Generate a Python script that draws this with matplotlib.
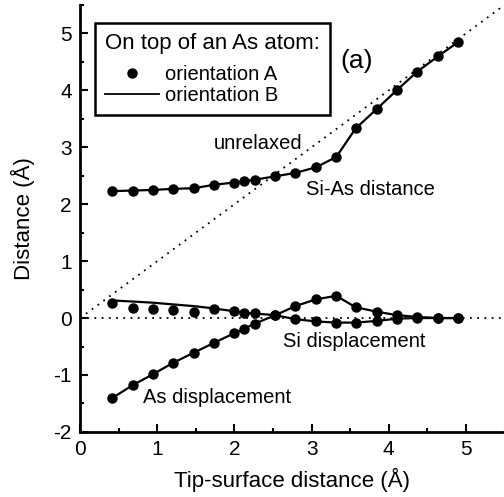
import matplotlib
matplotlib.use('Agg')
import matplotlib.pyplot as plt
from matplotlib.lines import Line2D
from matplotlib.ticker import MultipleLocator

plt.rcParams['font.family'] = ['Liberation Sans', 'DejaVu Sans']
plt.rcParams['axes.unicode_minus'] = False

# tip-surface distances (A)
tip_dist = [0.41, 0.68, 0.94, 1.20, 1.47, 1.73, 1.99, 2.12, 2.26, 2.53,
            2.79, 3.06, 3.32, 3.57, 3.85, 4.11, 4.37, 4.64, 4.90]

# orientation A (points)
si_as_a = [2.23, 2.24, 2.25, 2.27, 2.28, 2.34, 2.38, 2.40, 2.43, 2.49,
           2.55, 2.65, 2.83, 3.33, 3.68, 4.01, 4.33, 4.60, 4.85]
si_disp_a = [0.26, 0.18, 0.16, 0.15, 0.11, 0.16, 0.12, 0.09, 0.08, 0.05,
             -0.02, -0.06, -0.08, -0.08, -0.05, -0.01, 0.0, 0.0, 0.0]
as_disp_a = [-1.41, -1.18, -0.99, -0.79, -0.61, -0.44, -0.27, -0.19, -0.10, 0.05,
             0.21, 0.33, 0.39, 0.19, 0.11, 0.05, 0.02, 0.0, 0.0]

# orientation B (lines)
si_as_b = si_as_a
si_disp_b = [0.31, 0.29, 0.27, 0.24, 0.21, 0.17, 0.12, 0.09, 0.08, 0.05,
             -0.02, -0.06, -0.08, -0.08, -0.05, -0.01, 0.0, 0.0, 0.0]
as_disp_b = as_disp_a

unrelaxed_x = [0, 5.5]
unrelaxed_y = [0, 5.5]

fig = plt.figure(figsize=(5.04, 4.97), dpi=100)
ax = fig.add_axes([0.159, 0.131, 0.842, 0.859])

ax.plot(unrelaxed_x, unrelaxed_y, color='black', linestyle=(0, (1, 3)), linewidth=1.3)
ax.axhline(0, color='black', linestyle=(0, (1, 3)), linewidth=1.3)

for yb in (si_as_b, si_disp_b, as_disp_b):
    ax.plot(tip_dist, yb, color='black', linewidth=1.6)
for ya in (si_as_a, si_disp_a, as_disp_a):
    ax.plot(tip_dist, ya, linestyle='none', marker='o', markersize=6.5, color='black')

ax.set_xlim(0, 5.5)
ax.set_ylim(-2, 5.5)
ax.xaxis.set_major_locator(MultipleLocator(1))
ax.xaxis.set_minor_locator(MultipleLocator(0.5))
ax.yaxis.set_major_locator(MultipleLocator(1))
ax.yaxis.set_minor_locator(MultipleLocator(0.5))
ax.tick_params(which='both', direction='in', width=1.5, labelsize=15)
ax.tick_params(which='major', length=6, pad=6)
ax.tick_params(which='minor', length=3)
ax.spines['top'].set_visible(False)
ax.spines['right'].set_visible(False)
ax.spines['left'].set_linewidth(2)
ax.spines['bottom'].set_linewidth(2)

ax.set_xlabel('Tip-surface distance (Å)', fontsize=16, labelpad=6)
ax.set_ylabel('Distance (Å)', fontsize=16, labelpad=13)

ax.text(3.58, 4.51, '(a)', fontsize=19, ha='center', va='center')
ax.text(2.31, 3.06, 'unrelaxed', fontsize=14.5, ha='center', va='center')
ax.text(3.76, 2.26, 'Si-As distance', fontsize=14.5, ha='center', va='center')
ax.text(3.55, -0.41, 'Si displacement', fontsize=14.5, ha='center', va='center')
ax.text(1.78, -1.40, 'As displacement', fontsize=14.5, ha='center', va='center')

handles = [Line2D([], [], linestyle='none', marker='o', markersize=6.5, color='black'),
           Line2D([], [], color='black', linewidth=1.3)]
leg = ax.legend(handles, ['orientation A', 'orientation B'], title='On top of an As atom:',
                loc='upper left', bbox_to_anchor=(0.035, 0.958), fontsize=14.5,
                title_fontsize=16, fancybox=False, edgecolor='black', framealpha=1,
                handlelength=2.7, handletextpad=0.3, borderaxespad=0, labelspacing=0.1,
                borderpad=0.5, alignment='left')
leg.get_frame().set_linewidth(1.8)
# extra gap between the title and the two entries
leg._legend_box.sep = 8

fig.savefig('out.png', dpi=100)
